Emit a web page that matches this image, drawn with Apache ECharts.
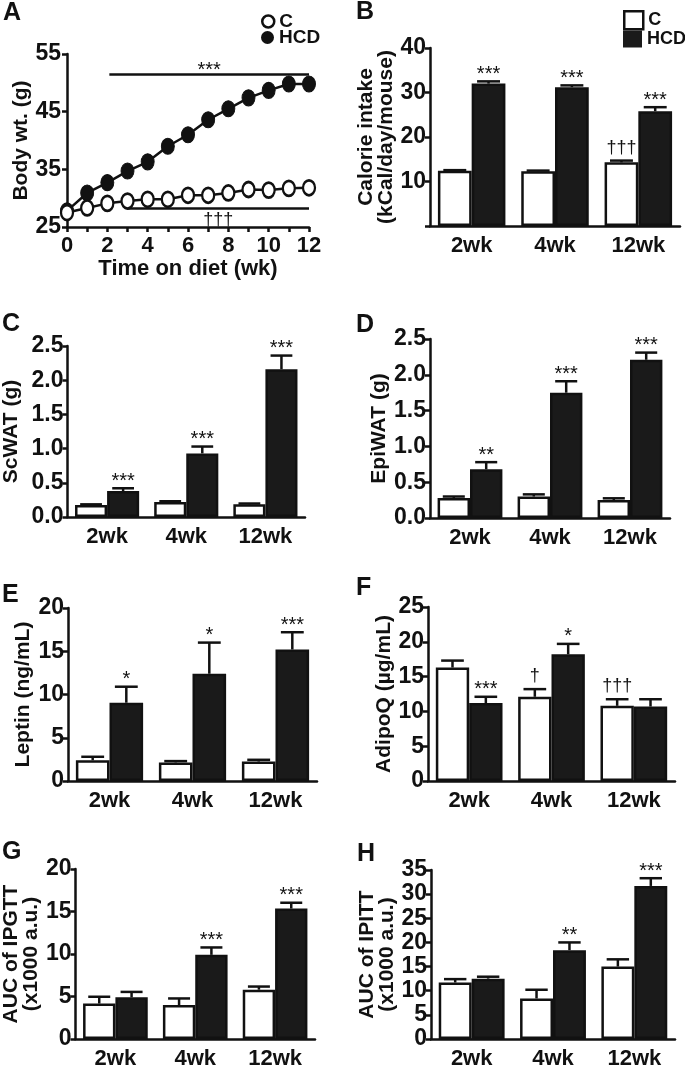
<!DOCTYPE html>
<html>
<head>
<meta charset="utf-8">
<script src="https://cdn.jsdelivr.net/npm/echarts@6/dist/echarts.min.js"></script>
<style>
html,body{margin:0;padding:0;background:#fff;}
#chart{width:685px;height:1070px;}
</style>
</head>
<body>
<div id="chart"></div>
<script>
// ---------------- DATA ----------------
const weeks = [0,1,2,3,4,5,6,7,8,9,10,11,12];
const bodyC   = [27.5,28.3,29.1,29.5,29.8,29.8,30.5,30.5,30.9,31.5,31.4,31.7,31.8];
const bodyHCD = [27.8,30.9,32.7,34.7,36.3,39.0,41.0,43.6,45.5,47.4,48.7,49.8,49.8];
const bodyTicks = [25,35,45,55];
const weekLabels = [0,2,4,6,8,10,12];
const bodySigHCD = {from:2.1, to:12, value:51.5, text:'***'};
const bodySigC   = {from:3, to:12, value:28.2, text:'†††'};

const categories = ['2wk','4wk','12wk'];

const calC = [12.4,12.3,14.3],  calCErr = [0.15,0.15,0.4],  calCSig = ['','','†††'];
const calH = [32.0,31.2,25.8],  calHErr = [0.5,0.4,0.9],    calHSig = ['***','***','***'];

const scC = [0.175,0.22,0.185], scCErr = [0.01,0.01,0.012], scCSig = ['','',''];
const scH = [0.38,0.93,2.16],   scHErr = [0.04,0.1,0.2],    scHSig = ['***','***','***'];

const epC = [0.28,0.30,0.25],   epCErr = [0.02,0.03,0.025], epCSig = ['','',''];
const epH = [0.68,1.75,2.21],   epHErr = [0.1,0.16,0.1],    epHSig = ['**','***','***'];

const lepC = [2.4,2.15,2.25],   lepCErr = [0.4,0.15,0.2],   lepCSig = ['','',''];
const lepH = [9.05,12.4,15.2],  lepHErr = [1.85,3.6,2.0],   lepHSig = ['*','*','***'];

const adC = [16.3,12.1,10.8],   adCErr = [1.0,1.1,0.95],    adCSig = ['','†','†††'];
const adH = [11.2,18.2,10.7],   adHErr = [0.9,1.5,1.05],    adHSig = ['***','*',''];

const gttC = [4.17,4.0,5.8],    gttCErr = [0.8,0.77,0.37],  gttCSig = ['','',''];
const gttH = [4.9,9.9,15.35],   gttHErr = [0.64,0.87,0.68], gttHSig = ['','***','***'];

const ittC = [11.7,8.4,15.0],   ittCErr = [0.7,1.8,1.5],    ittCSig = ['','',''];
const ittH = [12.5,18.4,31.7],  ittHErr = [0.4,1.6,1.6],    ittHSig = ['','**','***'];

// ---------------- STYLE ----------------
const FONT = '"Liberation Sans", Arial, Helvetica, sans-serif';
const INK = '#111';
const AXW = 2.5;
const GAP = 0.19;

const panels = [
  {letter:'A', grid:{left:67, top:54, width:242, height:173}, lx:3, ly:1},
  {letter:'B', grid:{left:430, top:48, width:250, height:178}, lx:356, ly:0,
   name:'Calorie intake\n(kCal/day/mouse)', gap:28, max:40, interval:10, hideZero:true,
   C:[calC,calCErr,calCSig], H:[calH,calHErr,calHSig]},
  {letter:'C', grid:{left:67, top:346, width:238, height:171}, lx:2, ly:312,
   name:'ScWAT (g)', gap:46, max:2.5, interval:0.5, fixed:1,
   C:[scC,scCErr,scCSig], H:[scH,scHErr,scHSig]},
  {letter:'D', grid:{left:430, top:339, width:240, height:179}, lx:356, ly:313,
   name:'EpiWAT (g)', gap:40, max:2.5, interval:0.5, fixed:1,
   C:[epC,epCErr,epCSig], H:[epH,epHErr,epHSig]},
  {letter:'E', grid:{left:68, top:608, width:249, height:173}, lx:2, ly:583,
   name:'Leptin (ng/mL)', gap:35, max:20, interval:5,
   C:[lepC,lepCErr,lepCSig], H:[lepH,lepHErr,lepHSig]},
  {letter:'F', grid:{left:428, top:607, width:247, height:174}, lx:356, ly:576,
   name:'AdipoQ (µg/mL)', gap:29, max:25, interval:5,
   C:[adC,adCErr,adCSig], H:[adH,adHErr,adHSig]},
  {letter:'G', grid:{left:68, top:869, width:247, height:176}, lx:2, ly:840,
   name:'AUC of IPGTT\n(x1000 a.u.)', gap:28, max:20, interval:5,
   C:[gttC,gttCErr,gttCSig], H:[gttH,gttHErr,gttHSig]},
  {letter:'H', grid:{left:431, top:870, width:244, height:175}, lx:357, ly:842,
   name:'AUC of IPITT\n(x1000 a.u.)', gap:31, max:35, interval:5,
   C:[ittC,ittCErr,ittCSig], H:[ittH,ittHErr,ittHSig]}
];

const grids = [], xAxes = [], yAxes = [], series = [], titles = [];

panels.forEach((p, gi) => {
  grids.push(Object.assign({containLabel:false}, p.grid));
  titles.push({text:p.letter, left:p.lx, top:p.ly, padding:0,
    textStyle:{fontFamily:FONT, fontSize:25, fontWeight:'bold', color:INK}});
});

// ---- Panel A ----
xAxes.push({
  gridIndex:0, type:'value', min:0, max:12, interval:1,
  name:'Time on diet (wk)', nameLocation:'middle', nameGap:29,
  nameTextStyle:{fontFamily:FONT, fontSize:22, fontWeight:'bold', color:INK},
  axisLine:{show:true, onZero:false, lineStyle:{color:INK, width:AXW}},
  axisTick:{show:true, length:5, lineStyle:{color:INK, width:AXW}},
  axisLabel:{customValues:weekLabels, fontFamily:FONT, fontSize:22, fontWeight:'bold', color:INK, margin:8},
  splitLine:{show:false}
});
yAxes.push({
  gridIndex:0, type:'value', min:25, max:55,
  name:'Body wt. (g)', nameLocation:'middle', nameGap:33, nameRotate:90,
  nameTextStyle:{fontFamily:FONT, fontSize:21, fontWeight:'bold', color:INK},
  axisLine:{show:true, onZero:false, lineStyle:{color:INK, width:AXW}},
  axisTick:{show:true, length:5, customValues:bodyTicks, lineStyle:{color:INK, width:AXW}},
  axisLabel:{customValues:bodyTicks, fontFamily:FONT, fontSize:23, fontWeight:'bold', color:INK, margin:6},
  splitLine:{show:false}
});
series.push({
  type:'line', name:'C', xAxisIndex:0, yAxisIndex:0, z:4,
  data: weeks.map((w,i)=>[w, bodyC[i]]),
  symbol:'circle', symbolSize:[12,15],
  itemStyle:{color:'#fff', borderColor:INK, borderWidth:2.5},
  lineStyle:{color:INK, width:2.5},
  markLine:{
    symbol:'none', silent:true, animation:false,
    lineStyle:{color:INK, width:2.5, type:'solid'},
    label:{show:true, position:'insideMiddleBottom', distance:2, formatter:bodySigC.text,
      fontFamily:FONT, fontSize:18, color:INK},
    emphasis:{disabled:true},
    data:[[{coord:[bodySigC.from, bodySigC.value]},{coord:[bodySigC.to, bodySigC.value]}]]
  }
});
series.push({
  type:'line', name:'HCD', xAxisIndex:0, yAxisIndex:0, z:3,
  data: weeks.map((w,i)=>[w, bodyHCD[i]]),
  symbol:'circle', symbolSize:[13,16],
  itemStyle:{color:INK, borderColor:INK, borderWidth:1},
  lineStyle:{color:INK, width:2.5},
  markLine:{
    symbol:'none', silent:true, animation:false,
    lineStyle:{color:INK, width:2.5, type:'solid'},
    label:{show:true, position:'insideMiddleTop', distance:-6, formatter:bodySigHCD.text,
      fontFamily:FONT, fontSize:20, color:INK},
    emphasis:{disabled:true},
    data:[[{coord:[bodySigHCD.from, bodySigHCD.value]},{coord:[bodySigHCD.to, bodySigHCD.value]}]]
  }
});

// ---- Bar panels ----
function errSeries(gi, vals, errs, sigs, side) {
  return {
    type:'custom', xAxisIndex:gi, yAxisIndex:gi, z:5, silent:true,
    data: vals.map((v,i)=>[i, v, errs[i]]),
    renderItem: function(params, api) {
      const i = api.value(0), v = api.value(1), e = api.value(2);
      const band = api.size([1,0])[0];
      const bw = band*(1-GAP)/2;
      const base = api.coord([i, v]);
      const cx = base[0] + side*bw/2;
      const yTop = base[1];
      const yErr = api.coord([i, v+e])[1];
      const cap = bw*0.34;
      const children = [
        {type:'line', shape:{x1:cx,y1:yTop,x2:cx,y2:yErr}, style:{stroke:INK, lineWidth:2.5}},
        {type:'line', shape:{x1:cx-cap,y1:yErr,x2:cx+cap,y2:yErr}, style:{stroke:INK, lineWidth:2.5}}
      ];
      const s = sigs[params.dataIndex];
      if (s) {
        const dag = s.indexOf('†') >= 0;
        children.push({type:'text', x:cx, y:yErr - (dag ? 13 : 7),
          style:{text:s, fill:INK, font:(dag?'18px ':'20px ') + FONT,
                 textAlign:'center', textVerticalAlign:'middle'}});
      }
      return {type:'group', children:children};
    }
  };
}

panels.forEach((p, gi) => {
  if (gi === 0) return;
  xAxes.push({
    gridIndex:gi, type:'category', data:categories,
    axisLine:{show:true, lineStyle:{color:INK, width:AXW}},
    axisTick:{show:false},
    axisLabel:{fontFamily:FONT, fontSize:22, fontWeight:'bold', color:INK, margin:9},
    splitLine:{show:false}
  });
  yAxes.push({
    gridIndex:gi, type:'value', min:0, max:p.max, interval:p.interval,
    name:p.name, nameLocation:'middle', nameGap:p.gap, nameRotate:90,
    nameTextStyle:{fontFamily:FONT, fontSize:21, fontWeight:'bold', color:INK, lineHeight:20},
    axisLine:{show:true, lineStyle:{color:INK, width:AXW}},
    axisTick:{show:true, length:5, lineStyle:{color:INK, width:AXW}},
    axisLabel:{fontFamily:FONT, fontSize:23, fontWeight:'bold', color:INK, margin:4,
      formatter: function(v){ if (p.hideZero && v === 0) return ''; return p.fixed ? v.toFixed(p.fixed) : String(v); }},
    splitLine:{show:false}
  });
  series.push({
    type:'bar', name:'C', xAxisIndex:gi, yAxisIndex:gi, data:p.C[0],
    barGap:'0%', barCategoryGap:(GAP*100)+'%',
    itemStyle:{color:'#fff', borderColor:INK, borderWidth:2.5}
  });
  series.push({
    type:'bar', name:'HCD', xAxisIndex:gi, yAxisIndex:gi, data:p.H[0],
    barGap:'0%', barCategoryGap:(GAP*100)+'%',
    itemStyle:{color:'#1a1a1a', borderColor:INK, borderWidth:2.5}
  });
  series.push(errSeries(gi, p.C[0], p.C[1], p.C[2], -1));
  series.push(errSeries(gi, p.H[0], p.H[1], p.H[2], 1));
});

const legendText = {fontFamily:FONT, fontSize:19, fontWeight:'bold', color:INK};
const legends = [
  {left:261, top:12, itemWidth:12, itemHeight:15, padding:0, selectedMode:false,
   data:[{name:'C', icon:'circle', itemStyle:{color:'#fff', borderColor:INK, borderWidth:2.5}}],
   textStyle:legendText},
  {left:261, top:28, itemWidth:13, itemHeight:16, padding:0, selectedMode:false,
   data:[{name:'HCD', icon:'circle', itemStyle:{color:INK, borderColor:INK, borderWidth:0}}],
   textStyle:legendText},
  {left:623, top:10, itemWidth:19, itemHeight:18, padding:0, selectedMode:false,
   data:[{name:'C', icon:'rect', itemStyle:{color:'#fff', borderColor:INK, borderWidth:2.5}}],
   textStyle:{fontFamily:FONT, fontSize:18, fontWeight:'bold', color:INK}},
  {left:623, top:30, itemWidth:19, itemHeight:17, padding:0, selectedMode:false,
   data:[{name:'HCD', icon:'rect', itemStyle:{color:'#1a1a1a', borderColor:INK, borderWidth:0}}],
   textStyle:{fontFamily:FONT, fontSize:18, fontWeight:'bold', color:INK}}
];

const chart = echarts.init(document.getElementById('chart'), null, {renderer:'canvas'});
chart.setOption({
  backgroundColor:'#fff',
  animation:false,
  textStyle:{fontFamily:FONT},
  title:titles,
  legend:legends,
  grid:grids,
  xAxis:xAxes,
  yAxis:yAxes,
  series:series
});
</script>
</body>
</html>
